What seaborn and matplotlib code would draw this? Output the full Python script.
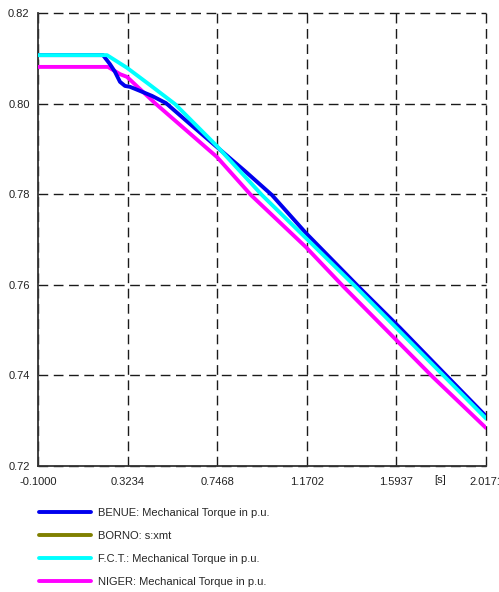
import numpy as np
import pandas as pd
import seaborn as sns
import matplotlib
matplotlib.use("Agg")
import matplotlib.pyplot as plt
from matplotlib.lines import Line2D
from matplotlib.ticker import FixedLocator, MultipleLocator

# Values (time in s, torque in p.u.)
t_benue = [-0.1, 0.2072, 0.2402, 0.2639, 0.2875, 0.3111, 0.3348, 0.3820, 0.4387,
           0.5049, 0.6183, 0.7459, 0.8782, 1.0058, 1.1665, 1.4122, 1.6107, 1.8375, 2.0171]
v_benue = [0.8107, 0.8107, 0.8087, 0.8070, 0.8048, 0.8039, 0.8037, 0.8028, 0.8017,
           0.8001, 0.7955, 0.7904, 0.7851, 0.7798, 0.7714, 0.7597, 0.7505, 0.7396, 0.7310]

t_fct = [-0.1, 0.2261, 0.3206, 0.4293, 0.5474, 0.7459, 0.9586, 1.1665, 1.3981, 2.0171]
v_fct = [0.8107, 0.8107, 0.8079, 0.8041, 0.7999, 0.7906, 0.7798, 0.7703, 0.7597, 0.7305]

t_niger = [-0.1, 0.2308, 0.2875, 0.3206, 0.4529, 0.7459, 0.9066, 1.1665, 1.3413, 1.7667, 2.0171]
v_niger = [0.8081, 0.8081, 0.8065, 0.8059, 0.8001, 0.7882, 0.7798, 0.7683, 0.7597, 0.7396, 0.7284]

labels = ["BENUE: Mechanical Torque in p.u.",
          "BORNO: s:xmt",
          "F.C.T.: Mechanical Torque in p.u.",
          "NIGER: Mechanical Torque in p.u."]
line_colors = ["#0000ee", "#808000", "#00ffff", "#ff00ff"]

x_ticks = [-0.1, 0.3234, 0.7468, 1.1702, 1.5937, 2.0171]
x_ticklabels = ["-0.1000", "0.3234", "0.7468", "1.1702", "1.5937", "2.0171"]
y_ticks = [0.72, 0.74, 0.76, 0.78, 0.80, 0.82]

sns.set_style("white")
plt.rcParams["font.family"] = ["Liberation Sans", "DejaVu Sans"]

fig = plt.figure(figsize=(4.99, 5.92), dpi=100)
ax = fig.add_axes([38 / 499, 1 - 466 / 592, 448 / 499, 453 / 592])

lw = 2.8
sns.lineplot(x=t_niger, y=v_niger, ax=ax, color=line_colors[3], lw=lw, sort=False,
             legend=False, zorder=3)
sns.lineplot(x=t_benue, y=v_benue, ax=ax, color=line_colors[0], lw=lw, sort=False,
             legend=False, zorder=4)
sns.lineplot(x=t_fct, y=v_fct, ax=ax, color=line_colors[2], lw=lw, sort=False,
             legend=False, zorder=5)

ax.set_xlim(x_ticks[0], x_ticks[-1])
ax.set_ylim(0.72, 0.82)
ax.set_xticks(x_ticks)
ax.set_xticklabels(x_ticklabels)
ax.set_yticks(y_ticks)
ax.set_yticklabels([f"{v:.2f}" for v in y_ticks])
mids = [(a + b) / 2 for a, b in zip(x_ticks[:-1], x_ticks[1:])]
ax.xaxis.set_minor_locator(FixedLocator(mids))
ax.yaxis.set_minor_locator(MultipleLocator(0.01))

fs = 8
ax.tick_params(axis="both", which="major", direction="in", length=6, width=1,
               color="#333333", labelsize=fs, labelcolor="#222222")
ax.tick_params(axis="both", which="minor", direction="in", length=3, width=1,
               color="#333333")
ax.tick_params(axis="x", which="major", pad=8)
ax.tick_params(axis="y", which="major", pad=6)

ax.grid(True, which="major", color="#1a1a1a", linestyle=(0, (7, 4)), linewidth=1.0)
for gl in ax.get_xgridlines() + ax.get_ygridlines():
    gl.set_clip_on(False)
ax.set_axisbelow(True)

for side in ["top", "right"]:
    ax.spines[side].set_visible(False)
for side in ["left", "bottom"]:
    ax.spines[side].set_color("#333333")
    ax.spines[side].set_linewidth(1.3)

ax.set_xlabel("")
ax.set_ylabel("")
ax.text(1.80, -0.0195, "[s]", transform=ax.get_xaxis_transform(), ha="center",
        va="top", fontsize=fs, color="#222222")

handles = [Line2D([], [], color=c, lw=lw) for c in line_colors]
fig.legend(handles, labels, loc="upper left", bbox_to_anchor=(39 / 499, 1 - 508 / 592),
           frameon=False, fontsize=fs, handlelength=4.7, handletextpad=0.6,
           labelspacing=1.17, borderpad=0, borderaxespad=0)

fig.savefig("out.png", dpi=100)
